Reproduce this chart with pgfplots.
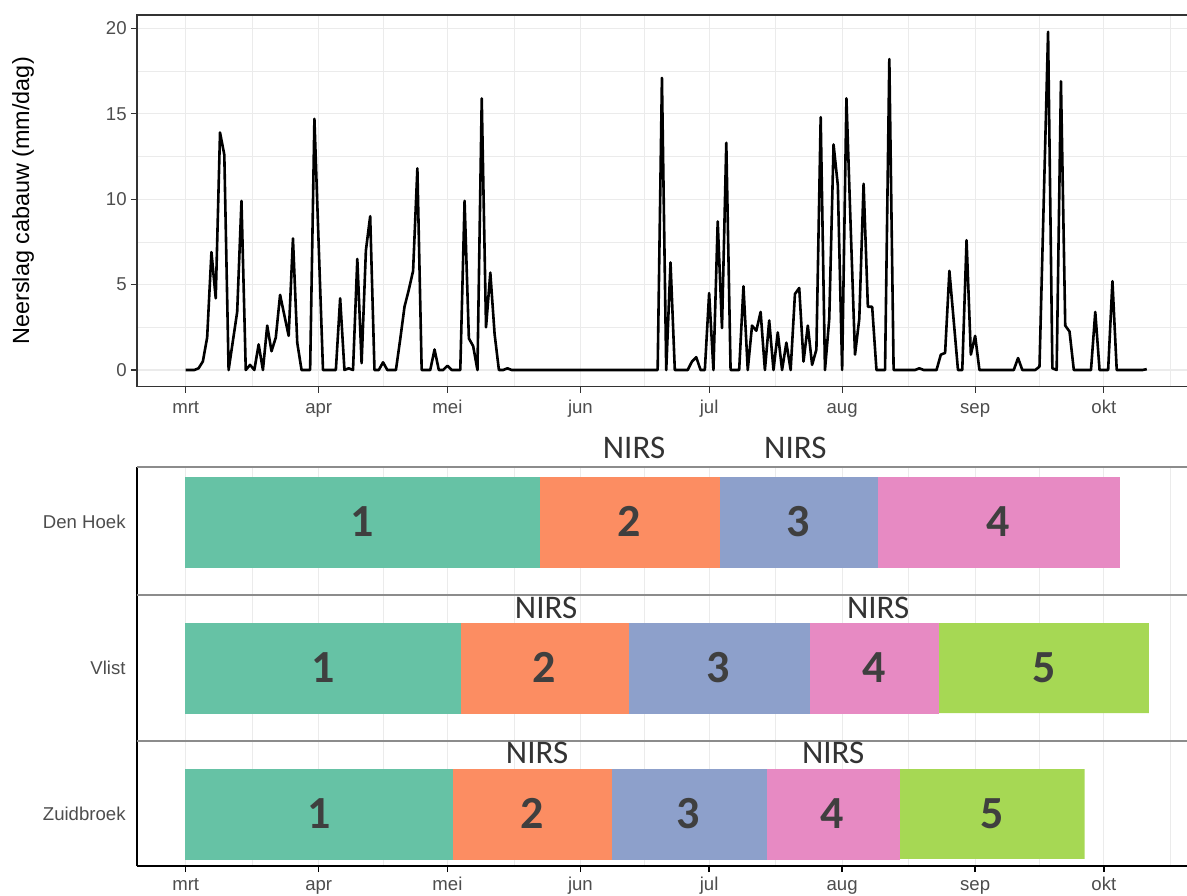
\documentclass[border=0pt]{standalone}
\usepackage{fontspec}
\setmainfont{Liberation Sans}
\newfontfamily\carlito{Carlito}
\usepackage{pgfplots}
\usepackage{pgfplotstable}
\pgfplotsset{compat=1.18}
\definecolor{sA}{HTML}{66C2A5}
\definecolor{sB}{HTML}{FC8D62}
\definecolor{sC}{HTML}{8DA0CB}
\definecolor{sD}{HTML}{E78AC3}
\definecolor{sE}{HTML}{A6D854}
\definecolor{gridc}{HTML}{EBEBEB}
\definecolor{tickc}{HTML}{4D4D4D}
\definecolor{frame}{HTML}{333333}
\definecolor{divc}{HTML}{8C8C8C}
\definecolor{numc}{HTML}{3F3F3F}

\pgfplotstableread{
d r
0 0
1 0
2 0
3 0.1
4 0.5
5 1.9
6 6.9
7 4.2
8 13.9
9 12.6
10 0
11 1.7
12 3.4
13 9.9
14 0
15 0.3
16 0
17 1.5
18 0
19 2.6
20 1.1
21 1.9
22 4.4
23 3.2
24 2.0
25 7.7
26 1.6
27 0
28 0
29 0
30 14.7
31 7.3
32 0
33 0
34 0
35 0
36 4.2
37 0
38 0.1
39 0
40 6.5
41 0.4
42 7.0
43 9.0
44 0
45 0
46 0.45
47 0
48 0
49 0
50 1.8
51 3.7
52 4.7
53 5.8
54 11.8
55 0
56 0
57 0
58 1.2
59 0
60 0
61 0.25
62 0
63 0
64 0
65 9.9
66 1.85
67 1.4
68 0
69 15.9
70 2.5
71 5.7
72 2.1
73 0
74 0
75 0.1
76 0
110 0
111 17.1
112 0
113 6.3
114 0
117 0
118 0.5
119 0.75
120 0
121 0
122 4.5
123 0
124 8.7
125 2.45
126 13.3
127 0
129 0
130 4.9
131 0
132 2.6
133 2.3
134 3.4
135 0
136 2.9
137 0
138 2.2
139 0
140 1.6
141 0
142 4.45
143 4.8
144 0.5
145 2.6
146 0.3
147 1.2
148 14.8
149 0
150 3.0
151 13.2
152 10.8
153 0
154 15.9
155 8.3
156 0.9
157 3.0
158 10.9
159 3.7
160 3.7
161 0
163 0
164 18.2
165 0
170 0
171 0.1
172 0
175 0
176 0.9
177 1.0
178 5.8
179 2.9
180 0
181 0
182 7.6
183 0.9
184 2.0
185 0
193 0
194 0.7
195 0
198 0
199 0.2
200 10.0
201 19.8
202 0.1
203 0
204 16.9
205 2.6
206 2.25
207 0
211 0
212 3.4
213 0
215 0
216 5.2
217 0
223 0
224 0.05
}\rain

\pgfplotstableread{
x y l
41.15 2.901 1
103.35 2.901 2
142.85 2.901 3
189.4 2.901 4
32.0 1.901 1
83.55 1.901 2
124.2 1.901 3
160.4 1.901 4
200.0 1.901 5
31.1 0.901 1
80.65 0.901 2
117.2 0.901 3
150.7 0.901 4
187.9 0.901 5
}\digits

\pgfplotstableread{
x y l
104.5 3.432 NIRS
142.1 3.432 NIRS
84.0 2.342 NIRS
161.4 2.342 NIRS
81.9 1.349 NIRS
150.9 1.349 NIRS
}\nirs

\pgfplotsset{
  common/.style={
    scale only axis, anchor=south west,
    width=528.9pt,
    xmin=-11.35, xmax=235.2,
    xtick={0,31,61,92,122,153,184,214},
    xticklabels={mrt,apr,mei,jun,jul,aug,sep,okt},
    minor xtick={15.5,46,76.5,107,137.5,168.5,199,229.5},
    ticklabel style={font=\fontsize{9.3}{11}\selectfont, text=tickc},
    tick align=outside, tick pos=left,
    major tick length=3pt, minor tick length=0pt,
  }
}

\begin{document}
\begin{tikzpicture}
\useasboundingbox (0,0) rectangle (593.5pt,447.5pt);

% ---------- top: rainfall ----------
\begin{axis}[common,
  at={(68.5pt,254.15pt)},
  height=185.85pt,
  ymin=-0.977, ymax=20.78,
  xticklabel style={anchor=base, inner sep=0pt, yshift=-10.2pt},
  ytick={0,5,10,15,20},
  yticklabels={0,5,10,15,20},
  minor ytick={2.5,7.5,12.5,17.5},
  yticklabel style={anchor=east, inner sep=0pt, xshift=-2pt},
  grid=both,
  major grid style={gridc, line width=0.55pt},
  minor grid style={gridc, line width=0.3pt},
  axis line style={frame, line width=0.55pt},
  tick style={frame, line width=0.55pt},
  every axis y label/.style={at={(axis description cs:-0.1078,0.5)}, rotate=90, anchor=center},
  ylabel={\fontsize{11.7}{14}\selectfont Neerslag cabauw (mm/dag)},
]
\addplot[black, line width=1.3pt, line join=round, mark=none] table[x=d,y=r]{\rain};
\end{axis}

% ---------- bottom: stages ----------
\begin{axis}[common,
  at={(68.5pt,14.5pt)},
  height=199.5pt,
  ymin=0.644, ymax=3.377,
  xticklabel style={anchor=base, inner sep=0pt, yshift=-9pt},
  xbar stacked, bar width=0.616,
  ytick={1,2,3},
  yticklabels={Zuidbroek,Vlist,Den Hoek},
  yticklabel style={anchor=east, inner sep=0pt, xshift=-2.5pt},
  ytick style={draw=none},
  xmajorgrids, xminorgrids,
  major grid style={gridc, line width=0.55pt},
  minor grid style={gridc, line width=0.3pt},
  axis x line*=bottom, axis y line*=left,
  axis line style={black, line width=1pt},
  xtick style={black, line width=0.7pt},
  extra y ticks={1.5,2.5},
  extra y tick labels={},
  extra y tick style={ymajorgrids=true, major grid style={divc, line width=0.9pt}, major tick length=0pt},
  clip=false,
]
\addplot[fill=sA, draw=sA, line width=0.3pt] coordinates {(82.3,3) (64.0,2) (62.2,1)};
\addplot[fill=sB, draw=sB, line width=0.3pt] coordinates {(42.1,3) (39.1,2) (36.9,1)};
\addplot[fill=sC, draw=sC, line width=0.3pt] coordinates {(36.9,3) (42.2,2) (36.2,1)};
\addplot[fill=sD, draw=sD, line width=0.3pt] coordinates {(56.2,3) (30.2,2) (31.0,1)};
\addplot[fill=sE, draw=none] coordinates {(0,3) (49.0,2) (43.2,1)};
\draw[divc, line width=0.9pt] (rel axis cs:0,1) -- (rel axis cs:1,1);
\end{axis}

% ---------- labels ----------
\begin{axis}[
  at={(68.5pt,14.5pt)}, anchor=south west, scale only axis,
  width=528.9pt, height=199.5pt,
  xmin=-11.35, xmax=235.2, ymin=0.644, ymax=3.377,
  hide axis, clip=false,
]
\addplot[draw=none, mark=none, nodes near coords, point meta=explicit symbolic,
  nodes near coords style={anchor=base, inner sep=0pt, text=numc,
    font=\carlito\bfseries\fontsize{23}{26}\selectfont}]
  table[x=x,y=y,meta=l]{\digits};
\addplot[draw=none, mark=none, nodes near coords, point meta=explicit symbolic,
  nodes near coords style={anchor=base, inner sep=0pt, text=frame,
    font=\carlito\fontsize{16.5}{19}\selectfont}]
  table[x=x,y=y,meta=l]{\nirs};
\end{axis}
\end{tikzpicture}
\end{document}
